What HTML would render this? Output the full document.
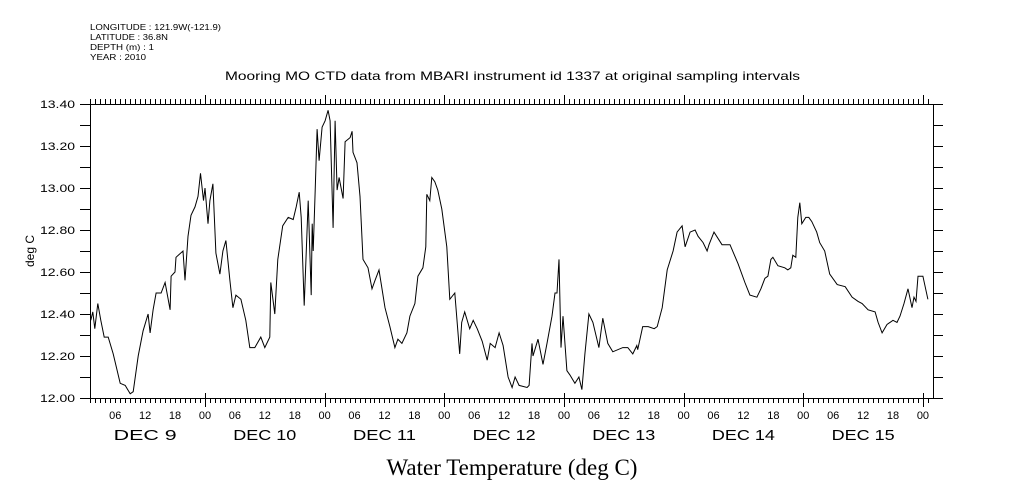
<!DOCTYPE html>
<html><head><meta charset="utf-8"><style>
html,body{margin:0;padding:0;background:#fff;}
svg{display:block;}
text{font-family:"Liberation Sans",sans-serif;fill:#000;}
</style></head><body>
<svg id="chart" width="1009" height="504" viewBox="0 0 1009 504" xmlns="http://www.w3.org/2000/svg">
<g font-size="8.5">
<text x="90" y="30" textLength="131" lengthAdjust="spacingAndGlyphs">LONGITUDE : 121.9W(-121.9)</text>
<text x="90" y="40" textLength="78" lengthAdjust="spacingAndGlyphs">LATITUDE : 36.8N</text>
<text x="90" y="50" textLength="64" lengthAdjust="spacingAndGlyphs">DEPTH (m) : 1</text>
<text x="90" y="60" textLength="56" lengthAdjust="spacingAndGlyphs">YEAR : 2010</text>
</g>
<text x="225" y="80" textLength="575" lengthAdjust="spacingAndGlyphs" font-size="12">Mooring MO CTD data from MBARI instrument id 1337 at original sampling intervals</text>
<text transform="translate(34,251) rotate(-90)" text-anchor="middle" font-size="12">deg C</text>
<text x="512" y="475" text-anchor="middle" font-size="23" style="font-family:'Liberation Serif',serif">Water Temperature (deg C)</text>
<g id="axes"></g>
<g id="series"></g>
</svg>
<script>
// hours since DEC 9 00:00
const hours=[1.1,1.5,1.9,2.5,3.1,3.8,4.6,5.6,7.0,8.0,9.0,9.6,10.6,11.6,12.6,13.0,13.6,14.2,15.2,16.0,17.0,17.2,18.0,18.2,19.6,20.0,20.6,21.2,22.0,22.6,23.1,23.7,24.0,24.6,25.0,25.6,26.0,26.2,27.0,27.6,28.2,29.0,29.6,30.2,31.2,32.2,33.0,34.0,35.2,36.0,37.0,37.2,38.0,38.6,39.6,40.7,41.7,42.3,42.9,43.3,43.5,
43.9,44.7,45.3,45.5,45.7,46.1,46.5,46.9,47.5,48.1,48.7,49.1,49.7,50.1,50.5,50.9,51.7,52.1,53.1,53.5,53.7,54.5,55.1,55.7,56.7,57.5,58.1,58.9,60.1,61.1,62.1,62.7,63.5,64.5,65.1,66.1,66.7,67.7,68.3,68.5,69.1,69.5,70.1,70.7,71.5,72.5,73.1,74.1,75.1,75.5,76.1,77.1,77.8,78.6,79.6,80.6,81.2,82.2,83.0,83.8,84.8,85.6,86.2,87.0,
88.6,89.0,89.6,89.8,90.8,91.8,92.6,93.6,94.2,94.6,95.0,95.4,95.8,96.6,97.2,98.2,99.0,99.6,100.2,101.0,101.8,103.0,103.8,104.8,105.8,107.8,108.8,109.8,110.6,110.8,111.8,112.9,114.1,114.7,115.7,116.7,117.9,118.7,119.7,120.3,121.3,122.3,122.9,123.9,124.7,125.1,126.1,127.7,129.3,130.9,132.3,133.3,134.7,135.5,
136.3,136.9,137.5,137.9,138.9,140.3,140.9,141.5,141.9,142.5,142.9,143.3,143.7,144.5,145.1,145.7,146.7,147.3,148.3,149.3,150.8,152.4,153.8,155.0,155.8,157.0,158.4,159.0,159.8,160.8,162.0,162.8,163.4,164.2,165.0,165.8,166.2,166.6,167.0,168.0,169.0];
const temps=[12.37,12.41,12.33,12.45,12.37,12.29,12.29,12.21,12.07,12.06,12.02,12.03,12.20,12.32,12.40,12.31,12.42,12.50,12.50,12.55,12.42,12.58,12.60,12.67,12.70,12.56,12.77,12.87,12.91,12.96,13.07,12.94,13.00,12.83,12.94,13.02,12.80,12.69,12.59,12.70,12.75,12.56,12.43,12.49,12.47,12.37,12.24,12.24,12.29,12.24,12.29,12.55,12.40,12.66,12.82,12.86,12.85,12.91,12.98,12.86,12.72,
12.44,12.94,12.49,12.83,12.70,12.99,13.28,13.13,13.29,13.32,13.37,13.32,12.81,13.32,12.99,13.05,12.95,13.22,13.24,13.27,13.17,13.12,12.96,12.66,12.62,12.52,12.56,12.61,12.43,12.34,12.24,12.28,12.26,12.31,12.39,12.45,12.58,12.62,12.72,12.97,12.94,13.05,13.03,12.99,12.90,12.72,12.47,12.50,12.21,12.36,12.41,12.33,12.37,12.33,12.27,12.18,12.26,12.24,12.31,12.25,12.10,12.05,12.10,12.06,
12.05,12.06,12.26,12.20,12.28,12.16,12.26,12.39,12.50,12.50,12.66,12.24,12.39,12.13,12.11,12.07,12.10,12.04,12.21,12.40,12.36,12.24,12.38,12.26,12.22,12.24,12.24,12.21,12.25,12.23,12.34,12.34,12.33,12.34,12.43,12.61,12.70,12.79,12.82,12.72,12.79,12.80,12.77,12.74,12.70,12.73,12.79,12.73,12.73,12.64,12.55,12.49,12.48,12.52,12.57,
12.58,12.66,12.67,12.63,12.62,12.61,12.62,12.68,12.67,12.86,12.93,12.83,12.86,12.86,12.84,12.79,12.74,12.70,12.59,12.54,12.53,12.48,12.46,12.45,12.42,12.41,12.36,12.31,12.35,12.37,12.36,12.39,12.45,12.52,12.43,12.48,12.46,12.58,12.58,12.47,12.40];
const yTicks=["12.00","12.20","12.40","12.60","12.80","13.00","13.20","13.40"];
const hourLabels=["06","12","18","00"];
const dayLabels=["DEC  9","DEC 10","DEC 11","DEC 12","DEC 13","DEC 14","DEC 15"];

const L=90,R=933,T=104,B=398,H0=0,PXH=4.986,X0=85.3;
const Y0=12.0,Y1=13.4;
function xs(h){return X0+(h-H0)*PXH;}
function ys(v){return B-(v-Y0)/(Y1-Y0)*(B-T);}
const NS="http://www.w3.org/2000/svg";
const axes=document.getElementById('axes');
function ln(x1,y1,x2,y2,name){const e=document.createElementNS(NS,'line');e.setAttribute('x1',x1);e.setAttribute('y1',y1);e.setAttribute('x2',x2);e.setAttribute('y2',y2);e.setAttribute('stroke','#000');e.setAttribute('stroke-width','1');e.setAttribute('shape-rendering','crispEdges');


axes.appendChild(e);return e;}
function tx(x,y,s,anchor,size,name,len){const e=document.createElementNS(NS,'text');e.setAttribute('x',x);e.setAttribute('y',y);e.setAttribute('text-anchor',anchor);e.setAttribute('font-size',size);e.textContent=s;
if(len){e.setAttribute('textLength',len);e.setAttribute('lengthAdjust','spacingAndGlyphs');}


axes.appendChild(e);return e;}
const fr=document.createElementNS(NS,'rect');
fr.setAttribute('x',L+0.5);fr.setAttribute('y',T+0.5);fr.setAttribute('width',R-L);fr.setAttribute('height',B-T);fr.setAttribute('fill','none');fr.setAttribute('stroke','#000');


axes.appendChild(fr);
for(let i=0;i<=14;i++){const v=Y0+i*0.1;const y=Math.round(ys(v))+0.5;
ln(L-10,y,L,y,'y-tick-left');ln(R,y,R+10,y,'y-tick-right');}
yTicks.forEach(s=>{tx(L-50,ys(parseFloat(s))+4,s,'start',11,'y-tick-label',35);});
for(let h=1;h<=170;h++){const x=Math.round(xs(h))+0.5;if(x<L||x>R)continue;
const day=h%24===0;
ln(x,T,x,T-(day?9:5),'x-tick-top');
ln(x,B,x,B+(day?9:5),'x-tick-bottom');
if(day)ln(x,B,x,B-5,'x-tick-bottom-inner');}
for(let d=0;d<7;d++){
hourLabels.forEach((s,i)=>{const h=d*24+(i+1)*6;tx(xs(h),419,s,'middle',11,'hour-label');});
tx(xs(d*24+12),440,dayLabels[d],'middle',15,'day-label',63);}
const sg=document.getElementById('series');
const p=document.createElementNS(NS,'polyline');
p.setAttribute('points',hours.map((h,i)=>xs(h).toFixed(1)+','+ys(temps[i]).toFixed(1)).join(' '));
p.setAttribute('fill','none');p.setAttribute('stroke','#000');p.setAttribute('stroke-width','1');


sg.appendChild(p);
</script>
</body></html>
